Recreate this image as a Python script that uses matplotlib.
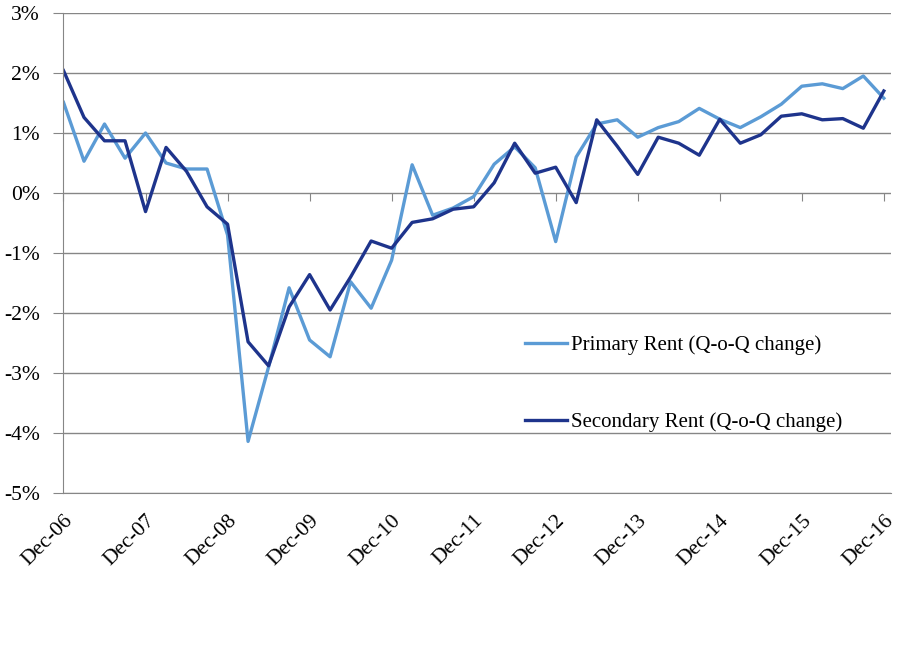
import matplotlib
matplotlib.use("Agg")
import matplotlib.pyplot as plt
import numpy as np

# quarterly change, Dec-06 .. Dec-16 (41 quarters)
primary = [1.51, 0.53, 1.15, 0.58, 1.00, 0.50, 0.40, 0.40,
           -0.70, -4.14, -2.90, -1.58, -2.45, -2.73, -1.48, -1.92,
           -1.12, 0.47, -0.37, -0.25, -0.06, 0.48, 0.77, 0.42,
           -0.81, 0.60, 1.15, 1.22, 0.93, 1.09, 1.19, 1.41,
           1.23, 1.09, 1.27, 1.48, 1.78, 1.82, 1.74, 1.95, 1.58]
secondary = [2.04, 1.26, 0.87, 0.87, -0.31, 0.76, 0.36, -0.23,
             -0.52, -2.48, -2.88, -1.90, -1.36, -1.95, -1.40, -0.80,
             -0.92, -0.49, -0.43, -0.27, -0.23, 0.17, 0.83, 0.33,
             0.43, -0.16, 1.22, 0.78, 0.31, 0.93, 0.83, 0.63,
             1.23, 0.83, 0.97, 1.28, 1.32, 1.22, 1.24, 1.08, 1.70]
year_labels = ['Dec-06', 'Dec-07', 'Dec-08', 'Dec-09', 'Dec-10', 'Dec-11',
               'Dec-12', 'Dec-13', 'Dec-14', 'Dec-15', 'Dec-16']
y_ticks = [-5, -4, -3, -2, -1, 0, 1, 2, 3]

plt.rcParams['font.family'] = ['Liberation Serif', 'DejaVu Serif']
grey = '#868686'

fig = plt.figure(figsize=(9.16, 6.49), dpi=100)
ax = fig.add_axes([63.5 / 916, 1 - 493 / 649, 827.5 / 916, 480 / 649])

q = np.arange(len(primary))
ax.plot(q, primary, color='#5B9BD5', lw=2.4, label='Primary Rent (Q-o-Q change)')
ax.plot(q, secondary, color='#1E348C', lw=2.4, label='Secondary Rent (Q-o-Q change)')

ax.set_ylim(-5, 3)
ax.set_xlim(0, 40.35)
ax.set_yticks(y_ticks)
ax.set_yticklabels([f'{v}%' for v in y_ticks])
ax.yaxis.grid(True, color=grey, lw=1)
ax.set_axisbelow(True)

tick_pos = q[::4]
ax.set_xticks(tick_pos)
ax.set_xticklabels(year_labels, rotation=45, ha='right', rotation_mode='anchor')
ax.tick_params(axis='x', length=0, pad=13, labelsize=15.5)
ax.tick_params(axis='y', length=7, color=grey, pad=10, labelsize=15.5)

for s in ['top', 'right']:
    ax.spines[s].set_visible(False)
ax.spines['left'].set_color(grey)
ax.spines['bottom'].set_color(grey)

# tick marks along the 0% line
sec = ax.secondary_xaxis(5 / 8)
sec.set_xticks(tick_pos)
sec.tick_params(direction='in', length=6, color=grey, labeltop=False, labelbottom=False)
for s in sec.spines.values():
    s.set_visible(False)

ax.legend(loc='upper left', bbox_to_anchor=(0.5577, 0.329), frameon=False,
          fontsize=15, labelspacing=2.75, handlelength=2.0, handletextpad=0.2,
          borderpad=0, borderaxespad=0)

fig.savefig('out.png', dpi=100)
